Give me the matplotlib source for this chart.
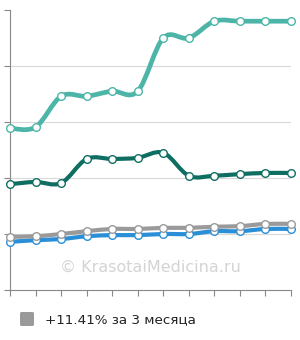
import numpy as np
import matplotlib.pyplot as plt
from matplotlib.path import Path
from matplotlib.patches import PathPatch, FancyBboxPatch

# значения по месяцам (12 точек)
months = list(range(12))
teal_light = [2.89, 2.91, 3.46, 3.46, 3.55, 3.55, 4.50, 4.50, 4.80, 4.80, 4.80, 4.80]
teal_dark = [1.89, 1.93, 1.91, 2.34, 2.34, 2.36, 2.45, 2.04, 2.04, 2.07, 2.09, 2.09]
gray = [0.95, 0.96, 1.00, 1.05, 1.09, 1.09, 1.11, 1.11, 1.13, 1.14, 1.18, 1.18]
blue = [0.86, 0.89, 0.91, 0.96, 0.98, 0.98, 1.00, 1.00, 1.05, 1.05, 1.09, 1.09]
legend_text = '+11.41% за 3 месяца'


def smooth_path(x, y, t=0.5):
    # кривая Безье через точки (catmull-rom)
    x = np.asarray(x, float)
    y = np.asarray(y, float)
    verts = [(x[0], y[0])]
    codes = [Path.MOVETO]
    n = len(x)
    for i in range(n - 1):
        x0, y0 = (x[i - 1], y[i - 1]) if i > 0 else (x[i], y[i])
        x3, y3 = (x[i + 2], y[i + 2]) if i + 2 < n else (x[i + 1], y[i + 1])
        c1 = (x[i] + (x[i + 1] - x0) * t / 3, y[i] + (y[i + 1] - y0) * t / 3)
        c2 = (x[i + 1] - (x3 - x[i]) * t / 3, y[i + 1] - (y3 - y[i]) * t / 3)
        verts += [c1, c2, (x[i + 1], y[i + 1])]
        codes += [Path.CURVE4] * 3
    return Path(verts, codes)


fig = plt.figure(figsize=(3.0, 3.4), dpi=100)
ax = fig.add_axes([10 / 300, 50 / 340, 281 / 300, 280 / 340])
ax.set_xlim(0, 11)
ax.set_ylim(0, 5)

for v in [1, 2, 3, 4]:
    ax.axhline(v, color='#d9d9d9', lw=0.8, zorder=0)

series = [(blue, '#2a8fd6', 3.0), (gray, '#9a9a9a', 3.0),
          (teal_dark, '#0f6e62', 3.0), (teal_light, '#4cb5a8', 3.4)]
for vals, col, lw in series:
    ax.add_patch(PathPatch(smooth_path(months, vals), fill=False, clip_on=False,
                           edgecolor=col, lw=lw, capstyle='round', zorder=2))
    ax.plot(months, vals, ls='none', marker='o', ms=5.5, mfc='white',
            mec=col, mew=1.0, zorder=3, clip_on=False)

for s in ['top', 'right']:
    ax.spines[s].set_visible(False)
ax.spines['left'].set_color('#888888')
ax.spines['bottom'].set_color('#888888')
ax.set_xticks(months)
ax.set_yticks([0, 1, 2, 3, 4, 5])
ax.tick_params(colors='#888888', length=4, width=0.8, labelleft=False, labelbottom=False)

ax.text(5.5, 0.4, '© KrasotaiMedicina.ru', ha='center', va='center',
        fontsize=11.5, color='#d4d4d4', zorder=1)

fig.patches.append(FancyBboxPatch((20 / 300, 14 / 340), 14 / 300, 14 / 340,
                                  boxstyle='round,pad=0,rounding_size=0.005',
                                  transform=fig.transFigure, facecolor='#9a9a9a',
                                  edgecolor='none'))
fig.text(45 / 300, 20 / 340, legend_text, fontsize=9.7, color='#222222',
         va='center', ha='left')

fig.savefig('out.png', dpi=100)
